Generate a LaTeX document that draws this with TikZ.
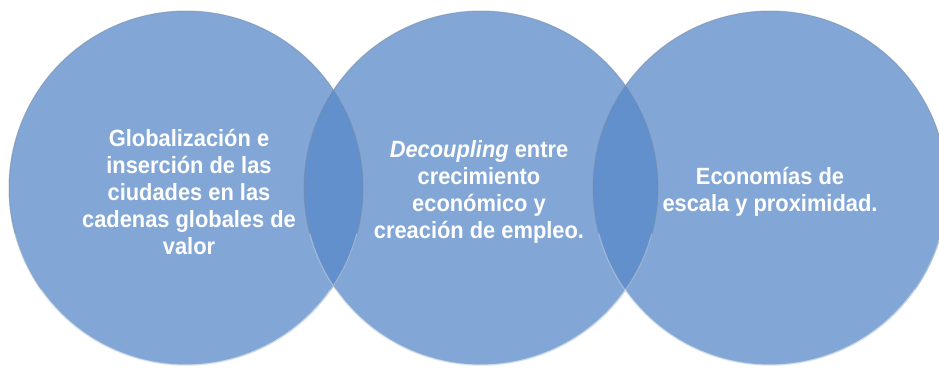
\documentclass[tikz,border=0pt]{standalone}
\usepackage{fontspec}
\setmainfont{Liberation Sans}
\definecolor{circfill}{RGB}{87,137,201}
\definecolor{rimdark}{RGB}{120,138,165}
\definecolor{rimlight}{RGB}{235,245,255}
\tikzset{
  bubble/.style={circle, minimum size=354pt, inner sep=0pt, fill=circfill, fill opacity=0.74},
  bubbletext/.style={text=white, font=\fontsize{23.5}{27}\selectfont\bfseries, align=center, xscale=0.93, transform shape}
}
\begin{document}
\begin{tikzpicture}[x=1pt,y=1pt]
\useasboundingbox (0,0) rectangle (939,368);
\fill[white] (0,0) rectangle (939,368);
% circles
\node[bubble] (c1) at (186,180) {};
\node[bubble] (c2) at (481,180) {};
\node[bubble] (c3) at (770,180) {};
% rims
\foreach \n in {c1,c2,c3}{
  \draw[rimdark, line width=1pt, opacity=0.55] (\n) circle[radius=177pt];
  \draw[rimlight, line width=1.2pt, opacity=0.35] (\n.195) arc[start angle=195, end angle=345, radius=177pt];
  \draw[rimlight, line width=1.4pt, opacity=0.45] (\n.215) arc[start angle=215, end angle=325, radius=177pt];
}
% texts
\node[bubbletext] (t1) at (189,176) {Globalización e\\inserción de las\\ciudades en las\\cadenas globales de\\valor};
\node[bubbletext] (t2) at (479,176) {\textit{Decoupling} entre\\crecimiento\\económico y\\creación de empleo.};
\node[bubbletext] (t3) at (770,176) {Economías de\\escala y proximidad.};
\end{tikzpicture}
\end{document}
